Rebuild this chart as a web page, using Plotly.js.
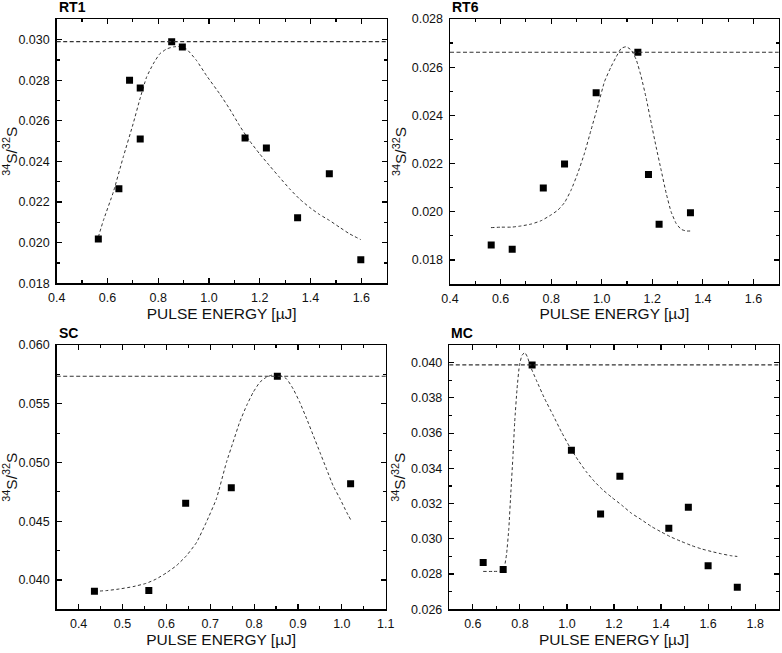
<!DOCTYPE html>
<html>
<head>
<meta charset="utf-8">
<script src="https://cdn.plot.ly/plotly-3.0.1.min.js"></script>
<style>
  html, body { margin: 0; padding: 0; background: #fff; }
  #myDiv { width: 782px; height: 653px; }
</style>
</head>
<body>
<div id="myDiv"></div>
<script>
// measured points, fitted curves and reference level for each sample
var rt1X = [0.564, 0.645, 0.687, 0.729, 0.729, 0.853, 0.895, 1.142, 1.226, 1.349, 1.474, 1.598];
var rt1Y = [0.02018, 0.02266, 0.0280, 0.02762, 0.02511, 0.0299, 0.02964, 0.02516, 0.02466, 0.02123, 0.02339, 0.01916];
var rt1FitX = [0.564, 0.584, 0.623, 0.662, 0.701, 0.728, 0.754, 0.780, 0.806, 0.833, 0.859, 0.885, 0.911, 0.951, 0.990, 1.042, 1.081, 1.120, 1.159, 1.199, 1.238, 1.277, 1.317, 1.356, 1.395, 1.435, 1.474, 1.513, 1.553, 1.598];
var rt1FitY = [0.02028, 0.0211, 0.02249, 0.02421, 0.02585, 0.02708, 0.02815, 0.0288, 0.0293, 0.02954, 0.02964, 0.02966, 0.02954, 0.02897, 0.02823, 0.02733, 0.02659, 0.02577, 0.02503, 0.02438, 0.0238, 0.02323, 0.02266, 0.02216, 0.02175, 0.02139, 0.0211, 0.02077, 0.02044, 0.02015];
var rt1Ref = 0.0299;

var rt6X = [0.563, 0.646, 0.769, 0.853, 0.978, 1.143, 1.185, 1.227, 1.351];
var rt6Y = [0.01862, 0.01844, 0.02099, 0.02198, 0.02494, 0.02662, 0.02155, 0.01948, 0.01996];
var rt6FitX = [0.562, 0.604, 0.643, 0.682, 0.722, 0.761, 0.800, 0.827, 0.853, 0.879, 0.905, 0.932, 0.958, 0.984, 1.011, 1.037, 1.058, 1.077, 1.097, 1.117, 1.137, 1.156, 1.176, 1.196, 1.215, 1.235, 1.255, 1.274, 1.294, 1.314, 1.334, 1.351];
var rt6FitY = [0.01934, 0.01936, 0.01936, 0.01941, 0.01949, 0.01963, 0.01987, 0.02007, 0.02038, 0.0209, 0.02159, 0.02243, 0.0234, 0.02436, 0.0254, 0.02602, 0.02644, 0.02678, 0.02685, 0.02671, 0.0263, 0.02561, 0.02471, 0.02367, 0.0227, 0.02173, 0.02077, 0.02001, 0.01952, 0.01927, 0.0192, 0.0192];
var rt6Ref = 0.02662;

var scX = [0.436, 0.560, 0.644, 0.748, 0.853, 1.020];
var scY = [0.03903, 0.03911, 0.04652, 0.04784, 0.05734, 0.04818];
var scFitX = [0.436, 0.463, 0.493, 0.524, 0.554, 0.577, 0.600, 0.623, 0.646, 0.669, 0.691, 0.714, 0.737, 0.752, 0.767, 0.783, 0.798, 0.813, 0.828, 0.843, 0.859, 0.874, 0.889, 0.904, 0.920, 0.935, 0.950, 0.965, 0.980, 0.996, 1.011, 1.020];
var scFitY = [0.03903, 0.03909, 0.03923, 0.03943, 0.03971, 0.04008, 0.0406, 0.04122, 0.04207, 0.0432, 0.04491, 0.0469, 0.05002, 0.05172, 0.05342, 0.05485, 0.05598, 0.05683, 0.05726, 0.05746, 0.0574, 0.05712, 0.05627, 0.05513, 0.05371, 0.05229, 0.05087, 0.04945, 0.04803, 0.0469, 0.04576, 0.04514];
var scRef = 0.05734;

var mcX = [0.644, 0.729, 0.852, 1.019, 1.143, 1.225, 1.433, 1.516, 1.600, 1.724];
var mcY = [0.02866, 0.02826, 0.03987, 0.03502, 0.03141, 0.03355, 0.0306, 0.03179, 0.02847, 0.02725];
var mcFitX = [0.644, 0.686, 0.729, 0.743, 0.753, 0.761, 0.770, 0.778, 0.788, 0.798, 0.809, 0.821, 0.832, 0.846, 0.870, 0.905, 0.941, 0.976, 1.011, 1.047, 1.082, 1.117, 1.153, 1.190, 1.232, 1.274, 1.317, 1.359, 1.402, 1.444, 1.486, 1.529, 1.571, 1.614, 1.656, 1.698, 1.724];
var mcFitY = [0.02815, 0.02815, 0.02819, 0.02909, 0.0306, 0.03249, 0.03457, 0.03664, 0.03853, 0.03985, 0.04042, 0.04057, 0.04032, 0.03975, 0.039, 0.03796, 0.03702, 0.03608, 0.03523, 0.03447, 0.03381, 0.03325, 0.03277, 0.03236, 0.03192, 0.03145, 0.03108, 0.0307, 0.03038, 0.03009, 0.02985, 0.02962, 0.02943, 0.02928, 0.02915, 0.02904, 0.029];
var mcRef = 0.03987;

var panelNames = ['RT1', 'RT6', 'SC', 'MC'];
var xTitle = 'PULSE ENERGY [µJ]';
var yTitle = '<sup>34</sup>S/<sup>32</sup>S';

var W = 782, H = 653;
var FONT = 'Arial, "Liberation Sans", sans-serif';

// pixel boxes of the four plot frames [left, right, top, bottom]
var boxes = [
  [56.7, 386.7, 19.3, 283.3],
  [450, 778.7, 19, 284],
  [56.7, 385.7, 345, 609.3],
  [449.3, 778.7, 345, 609.3]
];

function xax(i, range, dtick, minor){
  var b = boxes[i];
  return {
    domain: [b[0] / W, b[1] / W],
    anchor: i == 0 ? 'y' : 'y' + (i + 1),
    range: range,
    tick0: 0, dtick: dtick, tickformat: '.1f',
    ticks: 'inside', ticklen: 5, tickwidth: 1.2, tickcolor: '#000',
    minor: {dtick: minor, ticks: 'inside', ticklen: 3, tickwidth: 1.2, tickcolor: '#000'},
    showline: true, linewidth: 1.5, linecolor: '#000', mirror: 'allticks',
    showgrid: false, zeroline: false,
    ticklabelstandoff: 2,
    tickfont: {family: FONT, size: 12.5, color: '#111'},
    title: {text: xTitle, font: {family: FONT, size: 15.5, color: '#111'}, standoff: 1}
  };
}

function yax(i, range, dtick, minor){
  var b = boxes[i];
  return {
    domain: [1 - b[3] / H, 1 - b[2] / H],
    anchor: i == 0 ? 'x' : 'x' + (i + 1),
    range: range,
    tick0: 0, dtick: dtick, tickformat: '.3f',
    ticks: 'inside', ticklen: 5, tickwidth: 1.2, tickcolor: '#000',
    minor: {dtick: minor, ticks: 'inside', ticklen: 3, tickwidth: 1.2, tickcolor: '#000'},
    showline: true, linewidth: 1.5, linecolor: '#000', mirror: 'allticks',
    showgrid: false, zeroline: false,
    ticklabelstandoff: 3,
    tickfont: {family: FONT, size: 12.5, color: '#111'},
    title: {text: yTitle, font: {family: FONT, size: 15.5, color: '#111'}, standoff: 1}
  };
}

var sets = [
  [rt1X, rt1Y, rt1FitX, rt1FitY, rt1Ref],
  [rt6X, rt6Y, rt6FitX, rt6FitY, rt6Ref],
  [scX, scY, scFitX, scFitY, scRef],
  [mcX, mcY, mcFitX, mcFitY, mcRef]
];

var data = [];
var shapes = [];
var annotations = [];

for (var i = 0; i < sets.length; i++){
  var xa = i == 0 ? 'x' : 'x' + (i + 1);
  var ya = i == 0 ? 'y' : 'y' + (i + 1);
  var s = sets[i];

  data.push({
    x: s[2], y: s[3], xaxis: xa, yaxis: ya,
    type: 'scatter', mode: 'lines', hoverinfo: 'skip',
    line: {color: '#333', width: 1, dash: '3px,2.5px', shape: 'spline', smoothing: 0.4}
  });
  data.push({
    x: s[0], y: s[1], xaxis: xa, yaxis: ya,
    type: 'scatter', mode: 'markers',
    marker: {symbol: 'square', size: 7, color: '#000'}
  });

  // reference level across the whole frame
  shapes.push({
    type: 'line', xref: xa + ' domain', yref: ya,
    x0: 0, x1: 1, y0: s[4], y1: s[4],
    line: {color: '#333', width: 1.2, dash: '4px,2.5px'}
  });

  annotations.push({
    text: '<b>' + panelNames[i] + '</b>',
    xref: 'paper', yref: 'paper',
    x: boxes[i][0] / W, y: 1 - (boxes[i][2] - 12) / H,
    xanchor: 'left', yanchor: 'middle', showarrow: false,
    font: {family: FONT, size: 14, color: '#000'}
  });
}

var layout = {
  width: W, height: H,
  margin: {l: 0, r: 0, t: 0, b: 0},
  paper_bgcolor: '#fff', plot_bgcolor: '#fff',
  showlegend: false,
  xaxis: xax(0, [0.4, 1.7], 0.2, 0.1),
  yaxis: yax(0, [0.018, 0.031], 0.002, 0.001),
  xaxis2: xax(1, [0.4, 1.7], 0.2, 0.1),
  yaxis2: yax(1, [0.017, 0.028], 0.002, 0.001),
  xaxis3: xax(2, [0.35, 1.1], 0.1, 0.05),
  yaxis3: yax(2, [0.0375, 0.060], 0.005, 0.0025),
  xaxis4: xax(3, [0.5, 1.9], 0.2, 0.1),
  yaxis4: yax(3, [0.026, 0.041], 0.002, 0.001),
  shapes: shapes,
  annotations: annotations
};

Plotly.newPlot('myDiv', data, layout, {displayModeBar: false, staticPlot: true});
</script>
</body>
</html>
